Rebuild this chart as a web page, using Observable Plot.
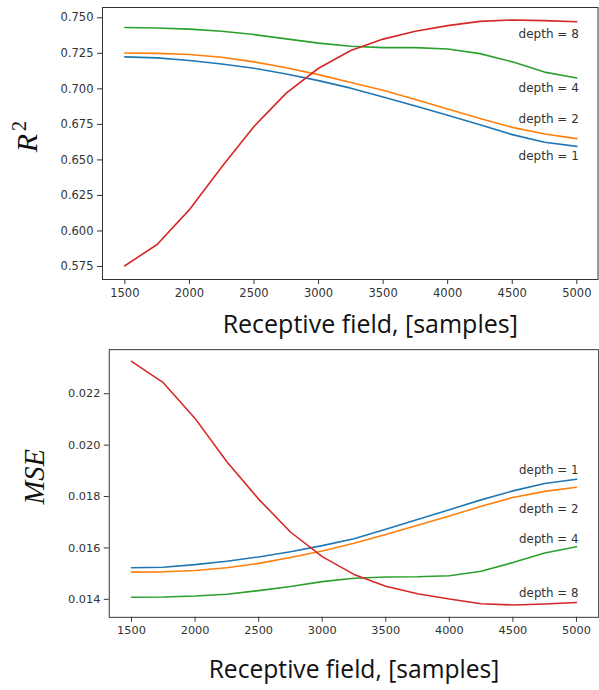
<!DOCTYPE html>
<html>
<head>
<meta charset="utf-8">
<script src="https://cdn.jsdelivr.net/npm/d3@7"></script>
<script src="https://cdn.jsdelivr.net/npm/@observablehq/plot@0.6"></script>
<style>
  html, body { margin: 0; padding: 0; background: #fff; }
  #wrap { position: relative; width: 599px; height: 690px; overflow: hidden; background: #fff; }
  #top { position: absolute; left: 0; top: 0; }
  #bottom { position: absolute; left: 0; top: 340px; }
  svg { overflow: visible; }
</style>
</head>
<body>
<div id="wrap"><div id="top"></div><div id="bottom"></div></div>
<script>
// ---- data ----
const receptiveField = [1500, 1750, 2000, 2250, 2500, 2750, 3000, 3250, 3500, 3750, 4000, 4250, 4500, 4750, 5000];
const depthNames = ["depth = 1", "depth = 2", "depth = 4", "depth = 8"];
const seriesColors = ["#1f77b4", "#ff7f0e", "#2ca02c", "#d62728"];

const r2Depth1 = [0.7225, 0.7218, 0.7200, 0.7175, 0.7145, 0.7105, 0.7058, 0.7005, 0.6943, 0.6880, 0.6815, 0.6748, 0.6678, 0.6624, 0.6595];
const r2Depth2 = [0.7252, 0.7250, 0.7242, 0.7222, 0.7190, 0.7148, 0.7100, 0.7045, 0.6990, 0.6925, 0.6858, 0.6792, 0.6729, 0.6682, 0.6650];
const r2Depth4 = [0.7432, 0.7428, 0.7420, 0.7405, 0.7382, 0.7352, 0.7322, 0.7300, 0.7290, 0.7290, 0.7280, 0.7248, 0.7190, 0.7118, 0.7076];
const r2Depth8 = [0.5755, 0.5905, 0.6150, 0.6450, 0.6735, 0.6970, 0.7145, 0.7270, 0.7350, 0.7405, 0.7445, 0.7475, 0.7485, 0.7480, 0.7472];

const mseDepth1 = [0.01523, 0.01525, 0.01535, 0.01548, 0.01565, 0.01585, 0.01609, 0.01636, 0.01673, 0.01711, 0.01749, 0.01787, 0.01822, 0.01851, 0.01867];
const mseDepth2 = [0.01506, 0.01507, 0.01512, 0.01523, 0.01540, 0.01563, 0.01588, 0.01618, 0.01652, 0.01688, 0.01724, 0.01762, 0.01796, 0.01820, 0.01836];
const mseDepth4 = [0.01408, 0.01409, 0.01413, 0.01420, 0.01434, 0.01450, 0.01469, 0.01482, 0.01487, 0.01488, 0.01492, 0.01509, 0.01543, 0.01580, 0.01605];
const mseDepth8 = [0.02326, 0.02243, 0.02104, 0.01935, 0.01790, 0.01662, 0.01566, 0.01497, 0.01451, 0.01422, 0.01401, 0.01383, 0.01378, 0.01382, 0.01388];

const xTicks = [1500, 2000, 2500, 3000, 3500, 4000, 4500, 5000];
const r2Ticks = [0.575, 0.600, 0.625, 0.650, 0.675, 0.700, 0.725, 0.750];
const mseTicks = [0.014, 0.016, 0.018, 0.020, 0.022];
const xTitle = "Receptive field, [samples]";

// ---- build tables ----
function table(seriesList) {
  const rows = [];
  seriesList.forEach((vals, i) => vals.forEach((v, j) => rows.push({x: receptiveField[j], y: v, depth: depthNames[i]})));
  return rows;
}
const r2Rows = table([r2Depth1, r2Depth2, r2Depth4, r2Depth8]);
const mseRows = table([mseDepth1, mseDepth2, mseDepth4, mseDepth8]);

const tickFont = {fontFamily: "DejaVu Sans", fontSize: 11.5};
const labelStyle = {fontFamily: "DejaVu Sans", fontSize: 12, fill: "#333"};
const titleStyle = {fontFamily: "Open Sans", fontSize: 25, fill: "#111"};

function endLabels(rows, offsets) {
  return depthNames.map((name, i) => Plot.text(rows.filter(d => d.depth === name && d.x === receptiveField[receptiveField.length - 1]), {
    x: "x", y: "y", text: () => name, textAnchor: "end", dx: offsets[i][0], dy: offsets[i][1], ...labelStyle
  }));
}

const topPlot = Plot.plot({
  width: 599, height: 340,
  marginTop: 7, marginBottom: 61, marginLeft: 102, marginRight: 1.5,
  style: {background: "#fff", color: "#333", ...tickFont, fontSize: "11.5px"},
  x: {domain: [1327, 5164]},
  y: {domain: [0.56585, 0.75725]},
  color: {domain: depthNames, range: seriesColors},
  marks: [
    Plot.axisX({ticks: xTicks, tickFormat: d3.format("d"), tickSize: 5, tickPadding: 4, label: null, stroke: "#333", fill: "#333", fontSize: 11.5}),
    Plot.axisY({ticks: r2Ticks, tickFormat: d3.format(".3f"), tickSize: 5, tickPadding: 4, label: null, stroke: "#333", fill: "#333", fontSize: 11.5}),
    Plot.line(r2Rows, {x: "x", y: "y", z: "depth", stroke: "depth", strokeWidth: 1.6}),
    ...endLabels(r2Rows, [[2, 10], [2, -19], [2, 10], [2, 12]]),
    Plot.text([xTitle], {frameAnchor: "bottom", lineAnchor: "bottom", dx: 20, dy: 53, ...titleStyle}),
    Plot.text(["R"], {frameAnchor: "left", rotate: -90, textAnchor: "start", lineAnchor: "bottom", dx: -65.3, dy: 8.7, fontFamily: "Liberation Serif", fontStyle: "italic", fontSize: 30, fill: "#111"}),
    Plot.text(["2"], {frameAnchor: "left", rotate: -90, textAnchor: "start", lineAnchor: "bottom", dx: -77, dy: -12.5, fontFamily: "Liberation Serif", fontSize: 20, fill: "#111"}),
    Plot.frame({stroke: "#333", strokeWidth: 1})
  ]
});
document.getElementById("top").appendChild(topPlot);

const bottomPlot = Plot.plot({
  width: 608, height: 350,
  marginTop: 9.3, marginBottom: 69, marginLeft: 110.4, marginRight: 0.8,
  style: {background: "#fff", color: "#333", ...tickFont, fontSize: "11.5px"},
  x: {domain: [1325, 5175]},
  y: {domain: [0.01330, 0.023715]},
  color: {domain: depthNames, range: seriesColors},
  marks: [
    Plot.axisX({ticks: xTicks, tickFormat: d3.format("d"), tickSize: 5, tickPadding: 4, label: null, stroke: "#333", fill: "#333", fontSize: 11.5}),
    Plot.axisY({ticks: mseTicks, tickFormat: d3.format(".3f"), tickSize: 5, tickPadding: 4, label: null, stroke: "#333", fill: "#333", fontSize: 11.5}),
    Plot.line(mseRows, {x: "x", y: "y", z: "depth", stroke: "depth", strokeWidth: 1.6}),
    ...endLabels(mseRows, [[2, -9], [2, 22], [2, -8], [2, -9]]),
    Plot.text([xTitle], {frameAnchor: "bottom", lineAnchor: "bottom", dx: 0, dy: 62, ...titleStyle}),
    Plot.text(["MSE"], {frameAnchor: "left", rotate: -90, textAnchor: "middle", lineAnchor: "bottom", dx: -66.4, dy: -6.8, fontFamily: "Liberation Serif", fontStyle: "italic", fontSize: 29, fill: "#111"}),
    Plot.frame({stroke: "#333", strokeWidth: 1})
  ]
});
document.getElementById("bottom").appendChild(bottomPlot);
</script>
</body>
</html>
